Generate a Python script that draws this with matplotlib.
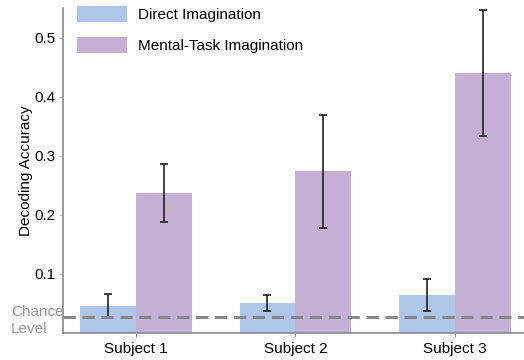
import numpy as np
import matplotlib.pyplot as plt

plt.rcParams['font.family'] = ['Liberation Sans', 'DejaVu Sans']

subjects = ["Subject 1", "Subject 2", "Subject 3"]
direct_acc = [0.046, 0.050, 0.0635]
direct_err = [0.019, 0.014, 0.0275]
mental_acc = [0.237, 0.274, 0.441]
mental_err = [0.050, 0.096, 0.107]
chance_level = 0.027

blue = '#aec7e8'
purple = '#c5b0d5'
width = 0.35

fig = plt.figure(figsize=(5.24, 3.6), dpi=100)
ax = fig.add_axes([0.120, 0.076, 0.88, 0.902])

x = np.arange(len(subjects))
ax.bar(x - width / 2, direct_acc, width, color=blue, label='Direct Imagination')
ax.bar(x + width / 2, mental_acc, width, color=purple, label='Mental-Task Imagination')
ax.errorbar(x - width / 2, direct_acc, yerr=direct_err, fmt='none',
            ecolor='#222222', elinewidth=1.2, capsize=3, capthick=1.2)
ax.errorbar(x + width / 2, mental_acc, yerr=mental_err, fmt='none',
            ecolor='#222222', elinewidth=1.2, capsize=3, capthick=1.2)

# chance line with its label outside the axes, left aligned
ax.axhline(chance_level, color='#888888', lw=2.2, ls=(0, (4, 2.2)))
fig.text(11 / 524, 0.1097, 'Chance\nLevel', ha='left', va='center',
         fontsize=11, color='#999999', linespacing=1.3)

ax.set_xlim(-0.458, 2.434)
ax.set_ylim(0, 0.551)
ax.set_xticks(x)
ax.set_xticklabels(subjects, fontsize=11)
ax.set_yticks([0.1, 0.2, 0.3, 0.4, 0.5])
ax.tick_params(axis='y', labelsize=11, length=3, color='#cccccc', pad=2)
ax.tick_params(axis='x', length=3, color='#888888', pad=4)
ax.set_ylabel('Decoding Accuracy', fontsize=11, labelpad=1)

for side in ('top', 'right'):
    ax.spines[side].set_visible(False)
for side in ('left', 'bottom'):
    ax.spines[side].set_color('#888888')
    ax.spines[side].set_linewidth(1.2)

ax.legend(loc='upper left', bbox_to_anchor=(0.135, 1.0), bbox_transform=fig.transFigure,
          frameon=False, fontsize=11, handlelength=3.3, handleheight=1.2,
          labelspacing=1.0, handletextpad=0.7, borderaxespad=0.0)

fig.savefig('out.png', dpi=100)
